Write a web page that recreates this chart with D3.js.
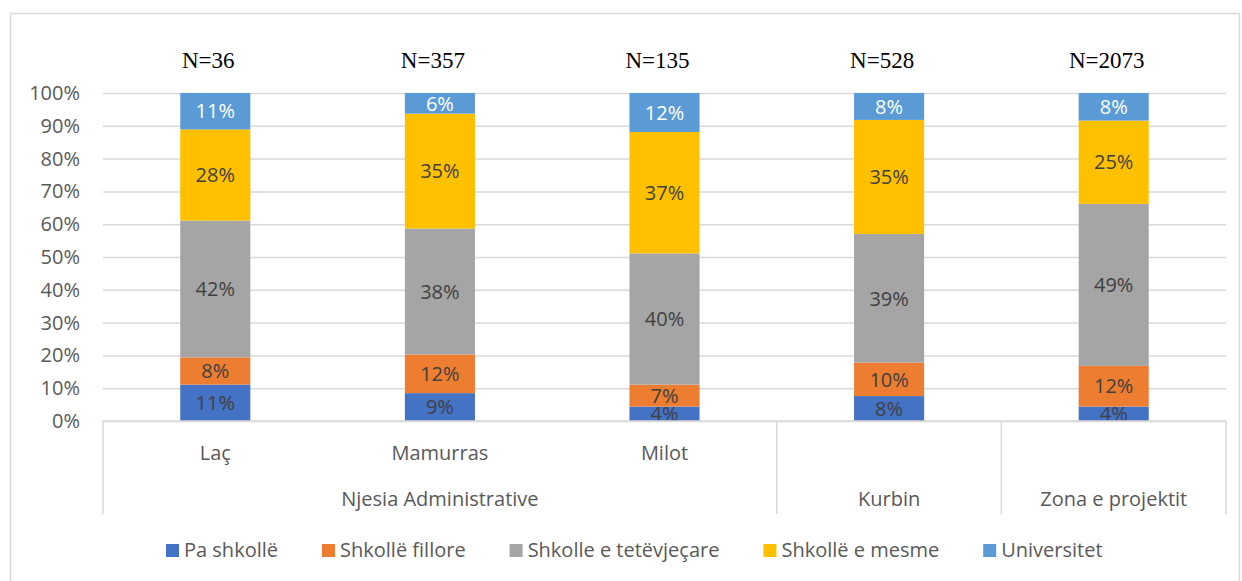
<!DOCTYPE html>
<html>
<head>
<meta charset="utf-8">
<style>
html,body { margin:0; padding:0; background:#fff; }
svg { display:block; }
</style>
</head>
<body>
<svg width="1242" height="581"></svg>
<script src="https://d3js.org/d3.v7.min.js"></script>
<script>
// categories (inner + outer level of the category axis)
var innerLabels = ["Laç", "Mamurras", "Milot", "", ""];
var outerLabels = ["Njesia Administrative", "Njesia Administrative", "Njesia Administrative", "Kurbin", "Zona e projektit"];
var sampleLabels = ["N=36", "N=357", "N=135", "N=528", "N=2073"];

// series values, percent
var seriesNames = ["Pa shkollë", "Shkollë fillore", "Shkolle e tetëvjeçare", "Shkollë e mesme", "Universitet"];
var paShkolle = [11.1, 8.5, 4.4, 7.6, 4.4];
var shkolleFillore = [8.3, 11.8, 6.7, 10.2, 12.4];
var tetevjecare = [41.7, 38.4, 40.0, 39.2, 49.4];
var eMesme = [27.8, 35.0, 37.0, 34.8, 25.4];
var universitet = [11.1, 6.3, 11.9, 8.2, 8.4];

var yTicks = [0, 10, 20, 30, 40, 50, 60, 70, 80, 90, 100];
var colors = ["#4472C4", "#ED7D31", "#A5A5A5", "#FFC000", "#5B9BD5"];

var seriesValues = [paShkolle, shkolleFillore, tetevjecare, eMesme, universitet];
var rows = innerLabels.map(function(d, i) {
  var r = { idx: i };
  seriesNames.forEach(function(s, j) { r[s] = seriesValues[j][i]; });
  return r;
});

var svg = d3.select("svg");
var font = "'Open Sans', sans-serif";
var plot = { left: 103, right: 1226, top: 93, bottom: 421 };

// chart frame
svg.append("rect")
  .attr("x", 10.5).attr("y", 13.5)
  .attr("width", 1229).attr("height", 600)
  .attr("fill", "#fff")
  .attr("stroke", "#d9d9d9")
  .attr("stroke-width", 1.5);

var x = d3.scaleBand()
  .domain(d3.range(innerLabels.length))
  .range([plot.left, plot.right])
  .padding(0);
var y = d3.scaleLinear()
  .domain([0, 100])
  .range([plot.bottom, plot.top]);
var barW = x.bandwidth() * 0.312;

// gridlines
svg.append("g")
  .attr("transform", "translate(" + plot.left + ",0)")
  .call(d3.axisLeft(y).tickValues(yTicks).tickSize(-(plot.right - plot.left)).tickFormat(""))
  .call(function(g) { g.select(".domain").remove(); })
  .selectAll("line")
  .attr("stroke", "#d9d9d9")
  .attr("stroke-width", 1.5);

// y tick labels
svg.append("g")
  .attr("transform", "translate(" + plot.left + ",0)")
  .call(d3.axisLeft(y).tickValues(yTicks).tickSize(0).tickPadding(23).tickFormat(function(d) { return d + "%"; }))
  .call(function(g) { g.select(".domain").remove(); })
  .selectAll("text")
  .attr("fill", "#595959")
  .style("font-family", font)
  .style("font-size", "20px");

// stacked bars
var stacked = d3.stack().keys(seriesNames)(rows);
var layer = svg.append("g").selectAll("g")
  .data(stacked)
  .join("g")
  .attr("fill", function(d, i) { return colors[i]; });

layer.selectAll("rect")
  .data(function(d) { return d; })
  .join("rect")
  .attr("x", function(d) { return x(d.data.idx) + x.bandwidth() / 2 - barW / 2; })
  .attr("y", function(d) { return y(d[1]); })
  .attr("width", barW)
  .attr("height", function(d) { return y(d[0]) - y(d[1]); });

// data labels
stacked.forEach(function(s, si) {
  svg.append("g").selectAll("text")
    .data(s)
    .join("text")
    .attr("x", function(d) { return x(d.data.idx) + x.bandwidth() / 2; })
    .attr("y", function(d) { return (y(d[0]) + y(d[1])) / 2; })
    .attr("dy", "0.36em")
    .attr("text-anchor", "middle")
    .attr("fill", si === 4 ? "#ffffff" : "#404040")
    .style("font-family", font)
    .style("font-size", "20px")
    .text(function(d) { return Math.round(d[1] - d[0]) + "%"; });
});

// N= labels above bars
svg.append("g").selectAll("text")
  .data(sampleLabels)
  .join("text")
  .attr("x", function(d, i) { return x(i) + x.bandwidth() / 2 - 7; })
  .attr("y", 68)
  .attr("text-anchor", "middle")
  .attr("fill", "#000")
  .style("font-family", "'Liberation Serif', 'Times New Roman', serif")
  .style("font-size", "23px")
  .text(function(d) { return d; });

// multi-level category axis
var axisG = svg.append("g").attr("stroke", "#d9d9d9").attr("stroke-width", 1.5);
axisG.append("line")
  .attr("x1", plot.left).attr("x2", plot.right)
  .attr("y1", plot.bottom).attr("y2", plot.bottom);

var outerGroups = [];
outerLabels.forEach(function(name, i) {
  var last = outerGroups[outerGroups.length - 1];
  if (last && last.name === name) last.end = i;
  else outerGroups.push({ name: name, start: i, end: i });
});

var bounds = [plot.left];
outerGroups.forEach(function(g) { bounds.push(x(g.end) + x.bandwidth()); });
axisG.selectAll("line.sep")
  .data(bounds)
  .join("line")
  .attr("class", "sep")
  .attr("x1", function(d) { return d; }).attr("x2", function(d) { return d; })
  .attr("y1", plot.bottom).attr("y2", 514);

svg.append("g").selectAll("text")
  .data(innerLabels)
  .join("text")
  .attr("x", function(d, i) { return x(i) + x.bandwidth() / 2; })
  .attr("y", 460)
  .attr("text-anchor", "middle")
  .attr("fill", "#595959")
  .style("font-family", font)
  .style("font-size", "20px")
  .text(function(d) { return d; });

svg.append("g").selectAll("text")
  .data(outerGroups)
  .join("text")
  .attr("x", function(d) { return (x(d.start) + x(d.end) + x.bandwidth()) / 2; })
  .attr("y", 506)
  .attr("text-anchor", "middle")
  .attr("fill", "#595959")
  .style("font-family", font)
  .style("font-size", "20px")
  .text(function(d) { return d.name; });

// legend
var legend = svg.append("g");
var lx = 166;
seriesNames.forEach(function(name, i) {
  var item = legend.append("g").attr("transform", "translate(" + lx + ",0)");
  item.append("rect")
    .attr("x", 0).attr("y", 544)
    .attr("width", 13).attr("height", 13)
    .attr("fill", colors[i]);
  var t = item.append("text")
    .attr("x", 18).attr("y", 557)
    .attr("fill", "#595959")
    .style("font-family", font)
    .style("font-size", "20px")
    .text(name);
  lx += 18 + t.node().getComputedTextLength() + 44;
});
</script>
</body>
</html>
